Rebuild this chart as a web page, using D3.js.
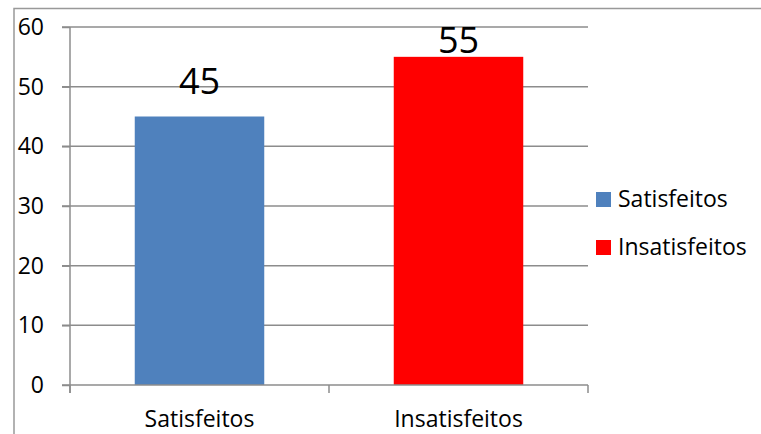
<!DOCTYPE html>
<html>
<head>
<meta charset="utf-8">
<script src="https://d3js.org/d3.v7.min.js"></script>
<style>
  body { margin: 0; background: #fff; }
  svg text { font-family: "Open Sans", "Liberation Sans", sans-serif; fill: #000; }
</style>
</head>
<body>
<svg id="chart" width="761" height="434"></svg>
<script>
var categories = ["Satisfeitos", "Insatisfeitos"];
var values = [45, 55];
var colors = ["#4F81BD", "#FF0000"];
var yTicks = [0, 10, 20, 30, 40, 50, 60];

var svg = d3.select("#chart");

// outer chart frame (runs off the right and bottom edge)
svg.append("rect")
  .attr("x", 14).attr("y", 8.5)
  .attr("width", 800).attr("height", 500)
  .attr("fill", "none").attr("stroke", "#999").attr("stroke-width", 1.5);

var x = d3.scaleBand().domain(categories).range([70, 588]).paddingInner(0.5).paddingOuter(0.25);
var y = d3.scaleLinear().domain([0, 60]).range([385, 27]);

// gridlines
svg.append("g").selectAll("line")
  .data(yTicks.slice(1))
  .enter().append("line")
  .attr("x1", 62).attr("x2", 588)
  .attr("y1", function(d) { return y(d); })
  .attr("y2", function(d) { return y(d); })
  .attr("stroke", "#8c8c8c").attr("stroke-width", 1.5);

// bars
svg.append("g").selectAll("rect")
  .data(values)
  .enter().append("rect")
  .attr("x", function(d, i) { return x(categories[i]); })
  .attr("y", function(d) { return y(d); })
  .attr("width", x.bandwidth())
  .attr("height", function(d) { return y(0) - y(d); })
  .attr("fill", function(d, i) { return colors[i]; });

// value labels (kept inside the plot area, like the original)
svg.append("g").selectAll("text")
  .data(values)
  .enter().append("text")
  .attr("x", function(d, i) { return x(categories[i]) + x.bandwidth() / 2; })
  .attr("y", function(d) { return Math.max(y(d) - 23, y(60) + 26); })
  .attr("text-anchor", "middle")
  .style("font-size", "36px")
  .text(function(d) { return d; });

// y axis
var yAxis = svg.append("g")
  .attr("transform", "translate(70,0)")
  .call(d3.axisLeft(y).tickValues(yTicks).tickSize(8).tickPadding(18));
yAxis.selectAll("line, path").attr("stroke", "#8c8c8c").attr("stroke-width", 1.5);
yAxis.select(".domain").attr("d", "M0,27V393");
yAxis.selectAll("text").style("font-size", "23px").style("font-family", "\"Open Sans\", sans-serif").attr("fill", "#000");

// x axis
var xAxis = svg.append("g")
  .attr("transform", "translate(0,385)")
  .call(d3.axisBottom(x).tickSize(0));
xAxis.select(".domain").attr("d", "M62,0H588").attr("stroke", "#8c8c8c").attr("stroke-width", 1.5);
xAxis.selectAll("text").attr("y", 42).attr("dy", 0)
  .style("font-size", "23px").style("font-family", "\"Open Sans\", sans-serif").attr("fill", "#000");
// boundary ticks
svg.append("g").selectAll("line")
  .data([70, 329, 588])
  .enter().append("line")
  .attr("x1", function(d) { return d; }).attr("x2", function(d) { return d; })
  .attr("y1", 385).attr("y2", 393)
  .attr("stroke", "#8c8c8c").attr("stroke-width", 1.5);

// legend
var legend = svg.append("g").selectAll("g")
  .data(categories)
  .enter().append("g")
  .attr("transform", function(d, i) { return "translate(596," + (192 + i * 48) + ")"; });
legend.append("rect")
  .attr("width", 15).attr("height", 15)
  .attr("fill", function(d, i) { return colors[i]; });
legend.append("text")
  .attr("x", 22).attr("y", 15)
  .style("font-size", "23px")
  .text(function(d) { return d; });
</script>
</body>
</html>
